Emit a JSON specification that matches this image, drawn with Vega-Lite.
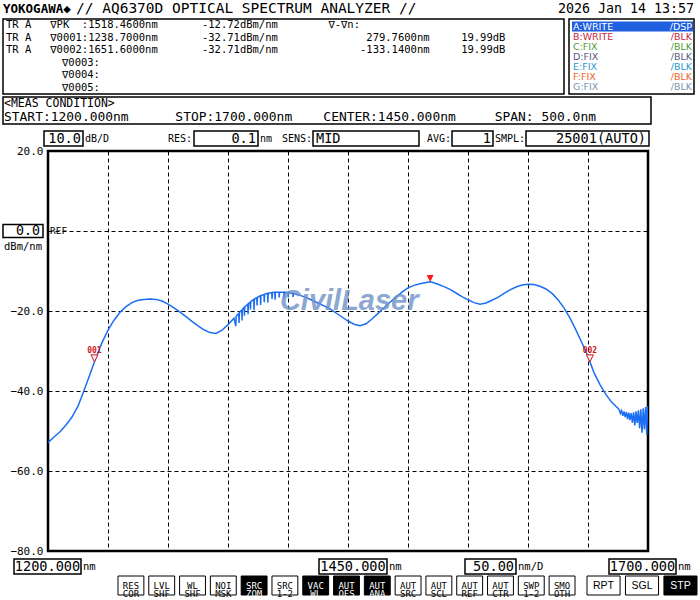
{
  "$schema": "https://vega.github.io/schema/vega-lite/v6.json",
  "background": "white",
  "padding": {"left": 2, "top": 0, "right": 0, "bottom": 0},
  "spacing": 0,
  "config": {
    "view": {"stroke": null},
    "concat": {"spacing": 0},
    "text": {"font": "DejaVu Sans Mono", "fontSize": 13.3, "color": "black"}
  },
  "vconcat": [
    {"bounds": "flush", "hconcat": [
      {"width": 73, "height": 18, "data": {"values": [{"text": "YOKOGAWA◆"}]}, "mark": {"type": "text", "align": "left", "fontSize": 12.5, "fontWeight": "bold"}, "encoding": {"text": {"field": "text"}, "x": {"datum": 0, "scale": {"domain": [0, 1]}, "axis": null}}},
      {"width": 400, "height": 18, "data": {"values": [{"text": "// AQ6370D OPTICAL SPECTRUM ANALYZER //"}]}, "mark": {"type": "text", "align": "left", "fontSize": 14.5}, "encoding": {"text": {"field": "text"}, "x": {"datum": 0, "scale": {"domain": [0, 1]}, "axis": null}}},
      {"width": 225, "height": 18, "data": {"values": [{"text": "2026 Jan 14 13:57"}]}, "mark": {"type": "text", "align": "right", "dx": -7, "fontSize": 13.3}, "encoding": {"text": {"field": "text"}, "x": {"datum": 1, "scale": {"domain": [0, 1]}, "axis": null}}}
    ]},
    {"bounds": "flush", "spacing": 5, "hconcat": [
      {"width": 561, "height": 75, "view": {"stroke": "black", "strokeWidth": 1.5},
       "data": {"values": [
         {"line": 1, "text": "TR\u00a0A\u00a0\u00a0\u00a0∇PK\u00a0\u00a0:1518.4600nm\u00a0\u00a0\u00a0\u00a0\u00a0\u00a0\u00a0-12.72dBm/nm\u00a0\u00a0\u00a0\u00a0\u00a0\u00a0\u00a0\u00a0∇-∇n:"},
         {"line": 2, "text": "TR\u00a0A\u00a0\u00a0\u00a0∇0001:1238.7000nm\u00a0\u00a0\u00a0\u00a0\u00a0\u00a0\u00a0-32.71dBm/nm\u00a0\u00a0\u00a0\u00a0\u00a0\u00a0\u00a0\u00a0\u00a0\u00a0\u00a0\u00a0\u00a0\u00a0279.7600nm\u00a0\u00a0\u00a0\u00a0\u00a019.99dB"},
         {"line": 3, "text": "TR\u00a0A\u00a0\u00a0\u00a0∇0002:1651.6000nm\u00a0\u00a0\u00a0\u00a0\u00a0\u00a0\u00a0-32.71dBm/nm\u00a0\u00a0\u00a0\u00a0\u00a0\u00a0\u00a0\u00a0\u00a0\u00a0\u00a0\u00a0\u00a0-133.1400nm\u00a0\u00a0\u00a0\u00a0\u00a019.99dB"},
         {"line": 4, "text": "\u2800\u2800\u2800\u2800\u2800\u2800\u2800∇0003:"},
         {"line": 5, "text": "\u2800\u2800\u2800\u2800\u2800\u2800\u2800∇0004:"},
         {"line": 6, "text": "\u2800\u2800\u2800\u2800\u2800\u2800\u2800∇0005:"}
       ]},
       "mark": {"type": "text", "align": "left", "dx": 3, "fontSize": 10.5},
       "encoding": {
         "text": {"field": "text"},
         "x": {"datum": 0, "scale": {"domain": [0, 1]}, "axis": null},
         "y": {"field": "line", "type": "ordinal", "scale": {"type": "point", "padding": 0.5}, "axis": null}
       }},
      {"width": 125, "height": 75, "view": {"stroke": "black", "strokeWidth": 1.5},
       "data": {"values": [
         {"trace": "A", "label": "A:WRITE", "state": "/DSP"},
         {"trace": "B", "label": "B:WRITE", "state": "/BLK"},
         {"trace": "C", "label": "C:FIX", "state": "/BLK"},
         {"trace": "D", "label": "D:FIX", "state": "/BLK"},
         {"trace": "E", "label": "E:FIX", "state": "/BLK"},
         {"trace": "F", "label": "F:FIX", "state": "/BLK"},
         {"trace": "G", "label": "G:FIX", "state": "/BLK"}
       ]},
       "encoding": {"y": {"field": "trace", "type": "nominal", "scale": {"type": "band", "paddingInner": 0, "paddingOuter": 0.25}, "axis": null}},
       "layer": [
         {"transform": [{"filter": "datum.trace === 'A'"}], "mark": {"type": "rect", "color": "#1f5fe0"}, "encoding": {"x": {"datum": 0.024, "scale": {"domain": [0, 1]}, "axis": null}, "x2": {"datum": 0.992}}},
         {"mark": {"type": "text", "align": "left", "dx": 4, "font": "DejaVu Sans", "fontSize": 9.5}, "encoding": {"text": {"field": "label"}, "x": {"datum": 0}, "color": {"field": "trace", "type": "nominal", "scale": {"domain": ["A", "B", "C", "D", "E", "F", "G"], "range": ["#ffffff", "#c8283c", "#4f9a35", "#5c5c7a", "#2a98d0", "#f06428", "#7a94b4"]}, "legend": null}}},
         {"mark": {"type": "text", "align": "right", "dx": -2, "font": "DejaVu Sans", "fontSize": 9.5}, "encoding": {"text": {"field": "state"}, "x": {"datum": 1}, "color": {"field": "trace", "type": "nominal", "legend": null}}}
       ]}
    ]},
    {"width": 1, "height": 1, "data": {"values": []}, "mark": "point"},
    {"width": 648, "height": 27, "view": {"stroke": "black", "strokeWidth": 1.5},
     "data": {"values": [
       {"line": 1, "text": "<MEAS CONDITION>"},
       {"line": 2, "text": "START:1200.000nm\u00a0\u00a0\u00a0\u00a0\u00a0\u00a0STOP:1700.000nm\u00a0\u00a0\u00a0\u00a0CENTER:1450.000nm\u00a0\u00a0\u00a0\u00a0\u00a0SPAN:\u00a0500.0nm"}
     ]},
     "encoding": {
       "text": {"field": "text"},
       "x": {"datum": 0, "scale": {"domain": [0, 1]}, "axis": null},
       "y": {"field": "line", "type": "ordinal", "scale": {"type": "point", "padding": 0.54}, "axis": null}
     },
     "layer": [
       {"transform": [{"filter": "datum.line === 1"}], "mark": {"type": "text", "align": "left", "dx": 1, "fontSize": 11.5}},
       {"transform": [{"filter": "datum.line === 2"}], "mark": {"type": "text", "align": "left", "dx": 1, "fontSize": 12.95}}
     ]},
    {"width": 1, "height": 5, "data": {"values": []}, "mark": "point"},
    {"spacing": -4, "vconcat": [
      {"bounds": "flush", "hconcat": [
        {"width": 41, "height": 15, "data": {"values": []}, "mark": "point"},
        {"width": 39, "height": 15, "view": {"stroke": "black", "strokeWidth": 1.5}, "data": {"values": [{"text": "10.0"}]}, "mark": {"type": "text", "align": "right", "dx": -2, "fontSize": 13.6}, "encoding": {"text": {"field": "text"}, "x": {"datum": 1, "scale": {"domain": [0, 1]}, "axis": null}}},
        {"width": 111, "height": 15, "data": {"values": [{"left": "dB/D", "right": "RES:"}]}, "layer": [
          {"mark": {"type": "text", "align": "left", "dx": 2, "fontSize": 10}, "encoding": {"text": {"field": "left"}, "x": {"datum": 0, "scale": {"domain": [0, 1]}, "axis": null}}},
          {"mark": {"type": "text", "align": "right", "dx": -2, "fontSize": 10}, "encoding": {"text": {"field": "right"}, "x": {"datum": 1}}}
        ]},
        {"width": 64, "height": 15, "view": {"stroke": "black", "strokeWidth": 1.5}, "data": {"values": [{"text": "0.1"}]}, "mark": {"type": "text", "align": "right", "dx": -2, "fontSize": 13.6}, "encoding": {"text": {"field": "text"}, "x": {"datum": 1, "scale": {"domain": [0, 1]}, "axis": null}}},
        {"width": 55, "height": 15, "data": {"values": [{"left": "nm", "right": "SENS:"}]}, "layer": [
          {"mark": {"type": "text", "align": "left", "dx": 2, "fontSize": 10}, "encoding": {"text": {"field": "left"}, "x": {"datum": 0, "scale": {"domain": [0, 1]}, "axis": null}}},
          {"mark": {"type": "text", "align": "right", "dx": -1, "fontSize": 10}, "encoding": {"text": {"field": "right"}, "x": {"datum": 1}}}
        ]},
        {"width": 106, "height": 15, "view": {"stroke": "black", "strokeWidth": 1.5}, "data": {"values": [{"text": "MID"}]}, "mark": {"type": "text", "align": "left", "dx": 3, "fontSize": 13.6}, "encoding": {"text": {"field": "text"}, "x": {"datum": 0, "scale": {"domain": [0, 1]}, "axis": null}}},
        {"width": 33, "height": 15, "data": {"values": [{"right": "AVG:"}]}, "mark": {"type": "text", "align": "right", "dx": -1, "fontSize": 10}, "encoding": {"text": {"field": "right"}, "x": {"datum": 1, "scale": {"domain": [0, 1]}, "axis": null}}},
        {"width": 41, "height": 15, "view": {"stroke": "black", "strokeWidth": 1.5}, "data": {"values": [{"text": "1"}]}, "mark": {"type": "text", "align": "right", "dx": -2, "fontSize": 13.6}, "encoding": {"text": {"field": "text"}, "x": {"datum": 1, "scale": {"domain": [0, 1]}, "axis": null}}},
        {"width": 33, "height": 15, "data": {"values": [{"right": "SMPL:"}]}, "mark": {"type": "text", "align": "right", "dx": -1, "fontSize": 10}, "encoding": {"text": {"field": "right"}, "x": {"datum": 1, "scale": {"domain": [0, 1]}, "axis": null}}},
        {"width": 123, "height": 15, "view": {"stroke": "black", "strokeWidth": 1.5}, "data": {"values": [{"text": "25001(AUTO)"}]}, "mark": {"type": "text", "align": "right", "dx": -3, "fontSize": 13.6}, "encoding": {"text": {"field": "text"}, "x": {"datum": 1, "scale": {"domain": [0, 1]}, "axis": null}}}
      ]},
      {"bounds": "flush", "spacing": 5, "hconcat": [
        {"width": 40, "height": 400,
         "data": {"values": [{"text": "0.0", "unit": "dBm/nm"}]},
         "layer": [
           {"mark": {"type": "rect", "fill": "white", "stroke": "black", "strokeWidth": 1.5}, "encoding": {"y": {"datum": 1.6, "scale": {"domain": [-80, 20], "nice": false, "zero": false}, "axis": null}, "y2": {"datum": -1.6}}},
           {"mark": {"type": "text", "align": "right", "dx": -3, "fontSize": 13.3}, "encoding": {"text": {"field": "text"}, "x": {"datum": 1, "scale": {"domain": [0, 1]}, "axis": null}, "y": {"datum": 0}}},
           {"mark": {"type": "text", "align": "center", "fontSize": 10.5}, "encoding": {"text": {"field": "unit"}, "x": {"datum": 0.5}, "y": {"datum": -3.9}}}
         ]},
        {"width": 600, "height": 400, "view": {"stroke": "black", "strokeWidth": 2.5},
         "layer": [
           {"data": {"values": [
             {"nm": 1200, "dB": -52.9}, {"nm": 1205, "dB": -51.5}, {"nm": 1210, "dB": -50.2}, {"nm": 1215, "dB": -48.5}, {"nm": 1220, "dB": -46.5},
             {"nm": 1225, "dB": -43.8}, {"nm": 1230, "dB": -39.9}, {"nm": 1235, "dB": -35.8}, {"nm": 1238.7, "dB": -32.71}, {"nm": 1240, "dB": -31.7},
             {"nm": 1245, "dB": -27.9}, {"nm": 1250, "dB": -24.8}, {"nm": 1255, "dB": -22.3}, {"nm": 1260, "dB": -20.3}, {"nm": 1265, "dB": -18.9},
             {"nm": 1270, "dB": -17.9}, {"nm": 1275, "dB": -17.3}, {"nm": 1280, "dB": -17.1}, {"nm": 1285, "dB": -17.0}, {"nm": 1290, "dB": -17.1},
             {"nm": 1295, "dB": -17.5}, {"nm": 1300, "dB": -18.3}, {"nm": 1305, "dB": -19.2}, {"nm": 1310, "dB": -20.3}, {"nm": 1315, "dB": -21.4},
             {"nm": 1320, "dB": -22.6}, {"nm": 1325, "dB": -23.7}, {"nm": 1330, "dB": -24.7}, {"nm": 1335, "dB": -25.4}, {"nm": 1340, "dB": -25.6},
             {"nm": 1345, "dB": -24.8}, {"nm": 1350, "dB": -23.4}, {"nm": 1355, "dB": -21.8},
             {"nm": 1356.5, "dB": -23.8}, {"nm": 1356.8, "dB": -21.3},
             {"nm": 1359, "dB": -20.6}, {"nm": 1359.2, "dB": -23.0}, {"nm": 1359.5, "dB": -20.5}, {"nm": 1360, "dB": -20.2},
             {"nm": 1361.5, "dB": -19.8}, {"nm": 1361.7, "dB": -22.4}, {"nm": 1362, "dB": -19.6},
             {"nm": 1363.5, "dB": -19.1}, {"nm": 1363.7, "dB": -21.2}, {"nm": 1364, "dB": -19.0}, {"nm": 1365, "dB": -18.7},
             {"nm": 1366.5, "dB": -18.3}, {"nm": 1366.7, "dB": -20.8}, {"nm": 1367, "dB": -18.2},
             {"nm": 1368.5, "dB": -17.8}, {"nm": 1368.7, "dB": -19.6}, {"nm": 1369, "dB": -17.7}, {"nm": 1370, "dB": -17.4},
             {"nm": 1371.5, "dB": -17.1}, {"nm": 1371.7, "dB": -19.8}, {"nm": 1372, "dB": -17.0},
             {"nm": 1374, "dB": -16.7}, {"nm": 1374.2, "dB": -18.6}, {"nm": 1374.5, "dB": -16.6}, {"nm": 1375, "dB": -16.5},
             {"nm": 1377, "dB": -16.2}, {"nm": 1377.2, "dB": -18.5}, {"nm": 1377.5, "dB": -16.15},
             {"nm": 1380, "dB": -15.9}, {"nm": 1380.2, "dB": -17.8}, {"nm": 1380.5, "dB": -15.85},
             {"nm": 1383, "dB": -15.6}, {"nm": 1383.2, "dB": -17.9}, {"nm": 1383.5, "dB": -15.6}, {"nm": 1385, "dB": -15.5},
             {"nm": 1386.5, "dB": -15.4}, {"nm": 1386.7, "dB": -17.0}, {"nm": 1387, "dB": -15.4},
             {"nm": 1389, "dB": -15.3}, {"nm": 1389.2, "dB": -17.2}, {"nm": 1389.5, "dB": -15.3},
             {"nm": 1392.5, "dB": -15.3}, {"nm": 1392.7, "dB": -16.6}, {"nm": 1393, "dB": -15.3}, {"nm": 1395, "dB": -15.3},
             {"nm": 1396.5, "dB": -15.3}, {"nm": 1396.7, "dB": -16.8}, {"nm": 1397, "dB": -15.3},
             {"nm": 1400, "dB": -15.4}, {"nm": 1400.2, "dB": -16.6}, {"nm": 1400.5, "dB": -15.4},
             {"nm": 1404, "dB": -15.6}, {"nm": 1404.2, "dB": -16.5}, {"nm": 1404.5, "dB": -15.65},
             {"nm": 1410, "dB": -16.1}, {"nm": 1415, "dB": -16.6}, {"nm": 1420, "dB": -17.3}, {"nm": 1425, "dB": -18.0}, {"nm": 1430, "dB": -18.7},
             {"nm": 1435, "dB": -19.5}, {"nm": 1440, "dB": -20.5}, {"nm": 1445, "dB": -21.5}, {"nm": 1450, "dB": -22.5}, {"nm": 1455, "dB": -23.3},
             {"nm": 1460, "dB": -23.7}, {"nm": 1465, "dB": -23.2}, {"nm": 1470, "dB": -22.0}, {"nm": 1475, "dB": -20.6}, {"nm": 1480, "dB": -19.2},
             {"nm": 1485, "dB": -17.8}, {"nm": 1490, "dB": -16.5}, {"nm": 1495, "dB": -15.3}, {"nm": 1500, "dB": -14.2}, {"nm": 1505, "dB": -13.6},
             {"nm": 1510, "dB": -13.2}, {"nm": 1515, "dB": -12.9}, {"nm": 1518.46, "dB": -12.72}, {"nm": 1520, "dB": -12.8}, {"nm": 1525, "dB": -13.3},
             {"nm": 1530, "dB": -13.9}, {"nm": 1535, "dB": -14.6}, {"nm": 1540, "dB": -15.5}, {"nm": 1545, "dB": -16.4}, {"nm": 1550, "dB": -17.2},
             {"nm": 1555, "dB": -17.9}, {"nm": 1560, "dB": -18.3}, {"nm": 1565, "dB": -18.0}, {"nm": 1570, "dB": -17.3}, {"nm": 1575, "dB": -16.6},
             {"nm": 1580, "dB": -15.6}, {"nm": 1585, "dB": -14.7}, {"nm": 1590, "dB": -14.0}, {"nm": 1595, "dB": -13.5}, {"nm": 1600, "dB": -13.3},
             {"nm": 1605, "dB": -13.4}, {"nm": 1610, "dB": -13.8}, {"nm": 1615, "dB": -14.5}, {"nm": 1620, "dB": -15.6}, {"nm": 1625, "dB": -17.2},
             {"nm": 1630, "dB": -19.2}, {"nm": 1635, "dB": -21.8}, {"nm": 1640, "dB": -24.8}, {"nm": 1645, "dB": -28.0}, {"nm": 1650, "dB": -31.3},
             {"nm": 1651.6, "dB": -32.71}, {"nm": 1655, "dB": -35.4}, {"nm": 1660, "dB": -38.4}, {"nm": 1665, "dB": -40.9}, {"nm": 1670, "dB": -42.9},
             {"nm": 1675, "dB": -44.3}, {"nm": 1676, "dB": -44.7}, {"nm": 1677, "dB": -45.6}, {"nm": 1678, "dB": -44.9}, {"nm": 1679, "dB": -46.2},
             {"nm": 1680, "dB": -45.1}, {"nm": 1681, "dB": -46.5}, {"nm": 1682, "dB": -45.3}, {"nm": 1683, "dB": -47.0}, {"nm": 1684, "dB": -45.4},
             {"nm": 1685, "dB": -47.3}, {"nm": 1686, "dB": -45.5}, {"nm": 1687, "dB": -47.9}, {"nm": 1688, "dB": -45.3}, {"nm": 1689, "dB": -48.6},
             {"nm": 1690, "dB": -45.1}, {"nm": 1691, "dB": -48.0}, {"nm": 1692, "dB": -44.8}, {"nm": 1693, "dB": -49.3}, {"nm": 1694, "dB": -44.6},
             {"nm": 1695, "dB": -50.4}, {"nm": 1696, "dB": -44.3}, {"nm": 1697, "dB": -49.6}, {"nm": 1698, "dB": -44.0}, {"nm": 1699, "dB": -51.0},
             {"nm": 1699.5, "dB": -43.8}, {"nm": 1700, "dB": -47.0}
           ]},
            "mark": {"type": "line", "color": "#1b6ef3", "strokeWidth": 1.5, "clip": true},
            "encoding": {
              "x": {"field": "nm", "type": "quantitative", "scale": {"domain": [1200, 1700], "nice": false, "zero": false},
                    "axis": {"values": [1250, 1300, 1350, 1400, 1450, 1500, 1550, 1600, 1650], "grid": true, "gridColor": "black", "gridDash": [4, 3], "gridOpacity": 1, "gridWidth": 1, "labels": false, "ticks": false, "domain": false, "title": null}},
              "y": {"field": "dB", "type": "quantitative", "scale": {"domain": [-80, 20], "nice": false, "zero": false},
                    "axis": {"values": [20, 10, 0, -10, -20, -30, -40, -50, -60, -70, -80], "grid": true, "gridColor": "black", "gridDash": [4, 3], "gridOpacity": 1, "gridWidth": 1, "ticks": false, "domain": false, "title": null,
                             "labelExpr": "(datum.value == 20 || (datum.value <= -20 && datum.value % 20 == 0)) ? format(datum.value, '.1f') : ''",
                             "labelFont": "DejaVu Sans Mono", "labelFontSize": 11, "labelColor": "black", "labelPadding": 5, "labelOverlap": false}}
            }},
           {"data": {"values": [{"text": "REF"}]}, "mark": {"type": "text", "align": "left", "dx": 2, "fontSize": 9.5}, "encoding": {"text": {"field": "text"}, "x": {"datum": 1200}, "y": {"datum": 0}}},
           {"data": {"values": [{"text": "CivilLaser"}]}, "mark": {"type": "text", "align": "center", "font": "Liberation Sans", "fontSize": 29, "fontStyle": "italic", "fontWeight": "bold", "color": "#7093c8", "opacity": 0.8}, "encoding": {"text": {"field": "text"}, "x": {"datum": 1451}, "y": {"datum": -17.5}}},
           {"data": {"values": [
             {"marker": "PK", "nm": 1518.46, "dB": -12.72},
             {"marker": "001", "nm": 1238.7, "dB": -32.71},
             {"marker": "002", "nm": 1651.6, "dB": -32.71}
           ]},
            "layer": [
              {"transform": [{"filter": "datum.marker === 'PK'"}], "mark": {"type": "point", "shape": "M-1,-2L1,-2L0,0Z", "filled": true, "fill": "#ff1a1a", "size": 49, "opacity": 1, "strokeWidth": 0}, "encoding": {"x": {"field": "nm", "type": "quantitative"}, "y": {"field": "dB", "type": "quantitative"}}},
              {"transform": [{"filter": "datum.marker !== 'PK'"}], "mark": {"type": "point", "shape": "M-1,-2L1,-2L0,0Z", "filled": true, "fill": "#fff0f0", "stroke": "#d01818", "strokeWidth": 1, "size": 49, "opacity": 1}, "encoding": {"x": {"field": "nm", "type": "quantitative"}, "y": {"field": "dB", "type": "quantitative"}}},
              {"transform": [{"filter": "datum.marker !== 'PK'"}], "mark": {"type": "text", "dy": -11, "fontSize": 8, "fontWeight": "bold", "color": "#d01818"}, "encoding": {"x": {"field": "nm", "type": "quantitative"}, "y": {"field": "dB", "type": "quantitative"}, "text": {"field": "marker"}}}
            ]}
         ]}
      ]}
    ]},
    {"bounds": "flush", "hconcat": [
      {"width": 11, "height": 15, "data": {"values": []}, "mark": "point"},
      {"width": 67, "height": 15, "view": {"stroke": "black", "strokeWidth": 1.5}, "data": {"values": [{"text": "1200.000"}]}, "mark": {"type": "text", "align": "center", "fontSize": 13.6}, "encoding": {"text": {"field": "text"}}},
      {"width": 238, "height": 15, "data": {"values": [{"text": "nm"}]}, "mark": {"type": "text", "align": "left", "dx": 2, "fontSize": 10.5}, "encoding": {"text": {"field": "text"}, "x": {"datum": 0, "scale": {"domain": [0, 1]}, "axis": null}}},
      {"width": 68, "height": 15, "view": {"stroke": "black", "strokeWidth": 1.5}, "data": {"values": [{"text": "1450.000"}]}, "mark": {"type": "text", "align": "center", "fontSize": 13.6}, "encoding": {"text": {"field": "text"}}},
      {"width": 78, "height": 15, "data": {"values": [{"text": "nm"}]}, "mark": {"type": "text", "align": "left", "dx": 2, "fontSize": 10.5}, "encoding": {"text": {"field": "text"}, "x": {"datum": 0, "scale": {"domain": [0, 1]}, "axis": null}}},
      {"width": 51, "height": 15, "view": {"stroke": "black", "strokeWidth": 1.5}, "data": {"values": [{"text": "50.00"}]}, "mark": {"type": "text", "align": "right", "dx": -2, "fontSize": 13.6}, "encoding": {"text": {"field": "text"}, "x": {"datum": 1, "scale": {"domain": [0, 1]}, "axis": null}}},
      {"width": 93, "height": 15, "data": {"values": [{"text": "nm/D"}]}, "mark": {"type": "text", "align": "left", "dx": 2, "fontSize": 10.5}, "encoding": {"text": {"field": "text"}, "x": {"datum": 0, "scale": {"domain": [0, 1]}, "axis": null}}},
      {"width": 67, "height": 15, "view": {"stroke": "black", "strokeWidth": 1.5}, "data": {"values": [{"text": "1700.000"}]}, "mark": {"type": "text", "align": "center", "fontSize": 13.6}, "encoding": {"text": {"field": "text"}}},
      {"width": 23, "height": 15, "data": {"values": [{"text": "nm"}]}, "mark": {"type": "text", "align": "left", "dx": 2, "fontSize": 10.5}, "encoding": {"text": {"field": "text"}, "x": {"datum": 0, "scale": {"domain": [0, 1]}, "axis": null}}}
    ]},
    {"bounds": "flush", "hconcat": [
      {"width": 115, "height": 19, "data": {"values": []}, "mark": "point"},
      {"width": 457, "height": 19,
       "data": {"values": [
         {"key": "RES\nCOR", "on": false}, {"key": "LVL\nSHF", "on": false}, {"key": "WL\nSHF", "on": false}, {"key": "NOI\nMSK", "on": false},
         {"key": "SRC\nZOM", "on": true}, {"key": "SRC\n1-2", "on": false}, {"key": "VAC\nWL", "on": true}, {"key": "AUT\nOFS", "on": true},
         {"key": "AUT\nANA", "on": true}, {"key": "AUT\nSRC", "on": false}, {"key": "AUT\nSCL", "on": false}, {"key": "AUT\nREF", "on": false},
         {"key": "AUT\nCTR", "on": false}, {"key": "SWP\n1-2", "on": false}, {"key": "SMO\nOTH", "on": false}
       ]},
       "encoding": {"x": {"field": "key", "type": "nominal", "sort": null, "scale": {"paddingInner": 0.16, "paddingOuter": 0}, "axis": null}},
       "layer": [
         {"mark": {"type": "rect", "stroke": "black", "strokeWidth": 1}, "encoding": {"fill": {"condition": {"test": "datum.on", "value": "black"}, "value": "white"}}},
         {"mark": {"type": "text", "lineBreak": "\n", "fontSize": 9, "lineHeight": 8.5}, "encoding": {"text": {"field": "key"}, "color": {"condition": {"test": "datum.on", "value": "white"}, "value": "black"}}}
       ]},
      {"width": 12, "height": 19, "data": {"values": []}, "mark": "point"},
      {"width": 110, "height": 19,
       "data": {"values": [{"key": "RPT", "on": false}, {"key": "SGL", "on": false}, {"key": "STP", "on": true}]},
       "encoding": {"x": {"field": "key", "type": "nominal", "sort": null, "scale": {"paddingInner": 0.14, "paddingOuter": 0}, "axis": null}},
       "layer": [
         {"mark": {"type": "rect", "stroke": "black", "strokeWidth": 1}, "encoding": {"fill": {"condition": {"test": "datum.on", "value": "black"}, "value": "white"}}},
         {"mark": {"type": "text", "font": "Liberation Sans", "fontSize": 10.5}, "encoding": {"text": {"field": "key"}, "color": {"condition": {"test": "datum.on", "value": "white"}, "value": "black"}}}
       ]}
    ]},
    {"width": 1, "height": 2.5, "data": {"values": []}, "mark": "point"}
  ]
}
